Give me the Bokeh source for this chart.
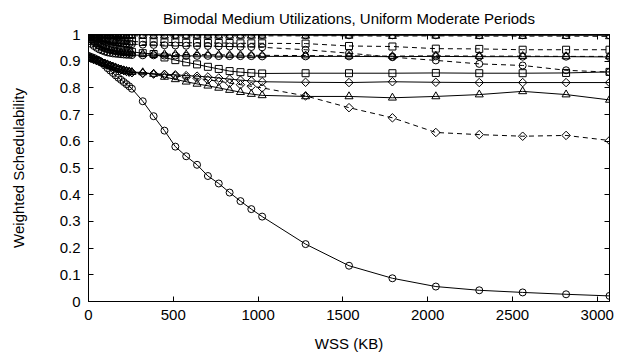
from bokeh.plotting import figure
from bokeh.models import ColumnDataSource, Range1d, FixedTicker, LinearAxis, CustomJSTickFormatter
from bokeh.embed import file_html
from bokeh.resources import INLINE

# ---------------- data ----------------
x_kb = [0, 16, 32, 48, 64, 80, 96, 112, 128, 144, 160, 176, 192, 208, 224, 240, 256,
        320, 384, 448, 512, 576, 640, 704, 768, 832, 896, 960, 1024,
        1280, 1536, 1792, 2048, 2304, 2560, 2816, 3072]

top_solid = [1.000, 1.000, 1.000, 1.000, 1.000, 1.000, 0.999, 0.999, 0.999, 0.999, 0.999, 0.999, 0.999, 0.999, 0.999, 0.999, 0.999,
             0.999, 0.998, 0.998, 0.998, 0.998, 0.998, 0.998, 0.998, 0.998, 0.998, 0.998, 0.998,
             0.997, 0.997, 0.997, 0.997, 0.997, 0.997, 0.997, 0.997]
top_dashed = [0.998, 0.997, 0.997, 0.997, 0.996, 0.996, 0.996, 0.996, 0.996, 0.996, 0.995, 0.995, 0.995, 0.995, 0.995, 0.995, 0.995,
              0.995, 0.995, 0.995, 0.995, 0.995, 0.995, 0.995, 0.995, 0.995, 0.995, 0.995, 0.995,
              0.995, 0.995, 0.994, 0.995, 0.994, 0.994, 0.994, 0.993]
sq_dashed = [0.995, 0.993, 0.991, 0.989, 0.988, 0.986, 0.985, 0.984, 0.982, 0.981, 0.980, 0.979, 0.978, 0.977, 0.976, 0.975, 0.974,
             0.972, 0.971, 0.970, 0.970, 0.969, 0.969, 0.968, 0.968, 0.968, 0.967, 0.967, 0.967,
             0.966, 0.957, 0.955, 0.947, 0.946, 0.943, 0.943, 0.943]
circ_dashed = [0.993, 0.990, 0.988, 0.985, 0.983, 0.980, 0.978, 0.976, 0.974, 0.972, 0.970, 0.969, 0.968, 0.967, 0.966, 0.965, 0.964,
               0.962, 0.961, 0.960, 0.959, 0.958, 0.957, 0.957, 0.956, 0.955, 0.954, 0.953, 0.952,
               0.943, 0.930, 0.915, 0.903, 0.890, 0.884, 0.866, 0.859]
tri_dashed = [0.985, 0.978, 0.970, 0.963, 0.957, 0.952, 0.948, 0.944, 0.941, 0.938, 0.936, 0.934, 0.932, 0.931, 0.930, 0.929, 0.928,
              0.927, 0.927, 0.926, 0.926, 0.925, 0.925, 0.924, 0.924, 0.923, 0.923, 0.922, 0.922,
              0.921, 0.920, 0.919, 0.920, 0.919, 0.919, 0.918, 0.918]
circ_solid_mid = [0.975, 0.965, 0.957, 0.950, 0.944, 0.940, 0.936, 0.933, 0.931, 0.929, 0.928, 0.927, 0.926, 0.925, 0.924, 0.924, 0.923,
                  0.922, 0.922, 0.921, 0.921, 0.920, 0.920, 0.920, 0.919, 0.919, 0.919, 0.919, 0.918,
                  0.918, 0.918, 0.917, 0.918, 0.917, 0.917, 0.917, 0.916]
sq_solid = [0.990, 0.984, 0.978, 0.973, 0.968, 0.964, 0.960, 0.957, 0.954, 0.951, 0.948, 0.946, 0.943, 0.941, 0.939, 0.937, 0.935,
            0.930, 0.927, 0.914, 0.904, 0.896, 0.888, 0.879, 0.871, 0.863, 0.859, 0.856, 0.854,
            0.855, 0.855, 0.855, 0.856, 0.855, 0.855, 0.856, 0.860]
dia_solid = [0.915, 0.912, 0.908, 0.904, 0.900, 0.896, 0.892, 0.888, 0.884, 0.880, 0.876, 0.872, 0.868, 0.865, 0.862, 0.859, 0.857,
             0.855, 0.853, 0.851, 0.849, 0.846, 0.844, 0.841, 0.837, 0.833, 0.829, 0.826, 0.823,
             0.821, 0.820, 0.823, 0.821, 0.820, 0.820, 0.820, 0.820]
tri_solid = [0.913, 0.910, 0.906, 0.902, 0.898, 0.894, 0.890, 0.886, 0.882, 0.878, 0.874, 0.871, 0.868, 0.865, 0.863, 0.861, 0.859,
             0.858, 0.852, 0.841, 0.832, 0.823, 0.815, 0.808, 0.800, 0.792, 0.784, 0.777, 0.772,
             0.768, 0.768, 0.763, 0.768, 0.775, 0.787, 0.775, 0.755]
dia_dashed = [0.914, 0.911, 0.907, 0.903, 0.899, 0.895, 0.891, 0.887, 0.883, 0.879, 0.875, 0.871, 0.868, 0.865, 0.862, 0.860, 0.858,
              0.855, 0.852, 0.849, 0.845, 0.840, 0.836, 0.830, 0.825, 0.818, 0.812, 0.806, 0.800,
              0.770, 0.726, 0.688, 0.633, 0.625, 0.619, 0.622, 0.603]
circ_solid_drop = [0.920, 0.916, 0.912, 0.907, 0.902, 0.893, 0.884, 0.874, 0.865, 0.856, 0.847, 0.838, 0.830, 0.822, 0.814, 0.806, 0.797,
                   0.750, 0.694, 0.640, 0.580, 0.544, 0.512, 0.470, 0.442, 0.408, 0.376, 0.346, 0.318,
                   0.215, 0.134, 0.087, 0.056, 0.042, 0.034, 0.027, 0.021]

x_ticks = [0, 500, 1000, 1500, 2000, 2500, 3000]
y_ticks = [0, 0.1, 0.2, 0.3, 0.4, 0.5, 0.6, 0.7, 0.8, 0.9, 1]
y_tick_labels = ["0", "0.1", "0.2", "0.3", "0.4", "0.5", "0.6", "0.7", "0.8", "0.9", "1"]

title_text = "Bimodal Medium Utilizations, Uniform Moderate Periods"
x_label = "WSS (KB)"
y_label = "Weighted Schedulability"

# series: (values, marker kind, dashed?)
series = [
    (top_solid, "circle", False),
    (top_dashed, "triangle", True),
    (sq_dashed, "square", True),
    (circ_dashed, "circle", True),
    (tri_dashed, "triangle", True),
    (circ_solid_mid, "circle", False),
    (sq_solid, "square", False),
    (dia_solid, "diamond", False),
    (tri_solid, "triangle", False),
    (dia_dashed, "diamond", True),
    (circ_solid_drop, "circle", False),
]

# ---------------- style ----------------
FONT = "Liberation Sans"
FS = "15px"
MARKER_STYLE = {
    "circle": dict(marker="circle", size=7, angle=0.0),
    "square": dict(marker="square", size=7, angle=0.0),
    "triangle": dict(marker="triangle", size=8, angle=0.0),
    "diamond": dict(marker="square", size=6, angle=0.785398),
}

p = figure(width=627, height=360, output_backend="svg", toolbar_location=None,
           x_range=Range1d(0, 3072), y_range=Range1d(0, 1),
           min_border_left=88, min_border_right=18, min_border_top=34, min_border_bottom=59,
           title=title_text)
p.background_fill_color = "white"
p.border_fill_color = "white"
p.outline_line_color = "black"
p.outline_line_width = 1
p.xgrid.visible = False
p.ygrid.visible = False

p.title.text_font = FONT
p.title.text_font_size = FS
p.title.text_font_style = "normal"
p.title.align = "center"
p.title.text_color = "black"
p.title.standoff = 15

src = ColumnDataSource({"x": x_kb, **{f"s{i}": s[0] for i, s in enumerate(series)}})

for i, (vals, mk, dashed) in enumerate(series):
    p.line("x", f"s{i}", source=src, line_color="black", line_width=1,
           line_dash="5 4" if dashed else "solid")
for i, (vals, mk, dashed) in enumerate(series):
    st = MARKER_STYLE[mk]
    p.scatter("x", f"s{i}", source=src, marker=st["marker"], size=st["size"], angle=st["angle"],
              fill_color=None, line_color="black", line_width=1)

def style_axis(ax, show_labels):
    ax.axis_line_color = "black"
    ax.axis_line_width = 1
    ax.major_tick_in = 5
    ax.major_tick_out = 0
    ax.major_tick_line_color = "black"
    ax.minor_tick_line_color = None
    ax.major_label_text_font = FONT
    ax.major_label_text_font_size = FS if show_labels else "0px"
    ax.major_label_text_color = "black"
    ax.axis_label_text_font = FONT
    ax.axis_label_text_font_size = FS
    ax.axis_label_text_font_style = "normal"
    ax.axis_label_text_color = "black"

xa = p.xaxis[0]
ya = p.yaxis[0]
xa.ticker = FixedTicker(ticks=x_ticks)
ya.ticker = FixedTicker(ticks=y_ticks)
ya.major_label_overrides = dict(zip(y_ticks, y_tick_labels))
style_axis(xa, True)
style_axis(ya, True)
xa.axis_label = x_label
ya.axis_label = y_label
xa.major_label_standoff = 8
xa.axis_label_standoff = 12
ya.major_label_standoff = 8
ya.axis_label_standoff = 30

blank = CustomJSTickFormatter(code="return ''")
top_ax = LinearAxis(ticker=FixedTicker(ticks=x_ticks), formatter=blank)
right_ax = LinearAxis(ticker=FixedTicker(ticks=y_ticks), formatter=blank)
style_axis(top_ax, False)
style_axis(right_ax, False)
top_ax.major_label_standoff = 0
right_ax.major_label_standoff = 0
p.add_layout(top_ax, "above")
p.add_layout(right_ax, "right")

open("out.html", "w").write(file_html(p, INLINE))
